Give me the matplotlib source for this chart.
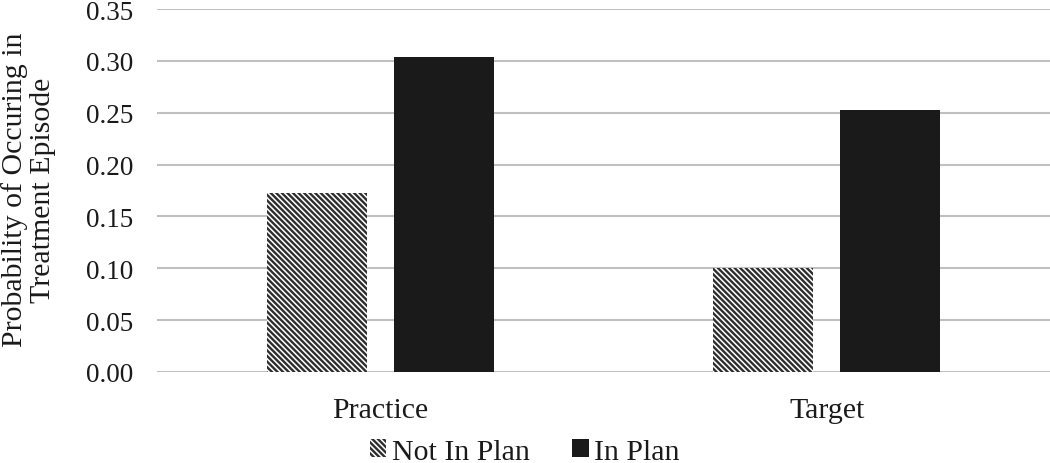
import matplotlib.pyplot as plt
import numpy as np

# chart data
CATEGORIES = ["Practice", "Target"]
NOT_IN_PLAN = [0.173, 0.100]
IN_PLAN = [0.304, 0.253]
Y_TICKS = [0.00, 0.05, 0.10, 0.15, 0.20, 0.25, 0.30, 0.35]

plt.rcParams['font.family'] = ['Liberation Serif', 'DejaVu Serif']
plt.rcParams['hatch.linewidth'] = 1.7
plt.rcParams['hatch.color'] = '#2e2e2e'

FS = 19.5
FS_BIG = 21.5

def main():
    fig = plt.figure(figsize=(10.5, 4.64), dpi=100)
    ax = fig.add_axes([157/1050, 91/464, 893/1050, 363/464])

    x = np.arange(len(CATEGORIES))
    width = 0.224
    off = 0.142

    ax.bar(x - off, NOT_IN_PLAN, width, color='white', hatch='\\\\\\\\\\\\',
           edgecolor='#2e2e2e', linewidth=0, label='Not In Plan', zorder=3)
    ax.bar(x + off, IN_PLAN, width, color='#1a1a1a', label='In Plan', zorder=3)

    ax.set_xlim(-0.5, 1.5)
    ax.set_ylim(0, 0.35)
    ax.set_yticks(Y_TICKS)
    ax.set_yticklabels(["%.2f" % t for t in Y_TICKS], fontsize=FS, color='#1a1a1a')
    ax.set_xticks(x)
    ax.set_xticklabels(CATEGORIES, fontsize=FS_BIG, color='#1a1a1a')
    ax.tick_params(axis='y', length=0, pad=17)
    ax.tick_params(axis='x', length=0, pad=18)

    for s in ax.spines.values():
        s.set_visible(False)
    ax.yaxis.grid(True, color='#c0c0c0', linewidth=1.5, zorder=0)
    ax.set_axisbelow(True)

    fig.text(0.027, 1 - 190/464, "Probability of Occuring in\nTreatment Episode",
             rotation=90, ha='center', va='center', fontsize=FS_BIG,
             color='#1a1a1a', linespacing=1.1)

    fig.legend(loc='center', bbox_to_anchor=(0.5, 11/464), ncol=2,
               frameon=False, fontsize=FS_BIG, handlelength=0.55, handleheight=0.55,
               handletextpad=0.2, columnspacing=1.4, labelcolor='#1a1a1a')

    plt.savefig("out.png", dpi=100)

if __name__ == '__main__':
    main()
